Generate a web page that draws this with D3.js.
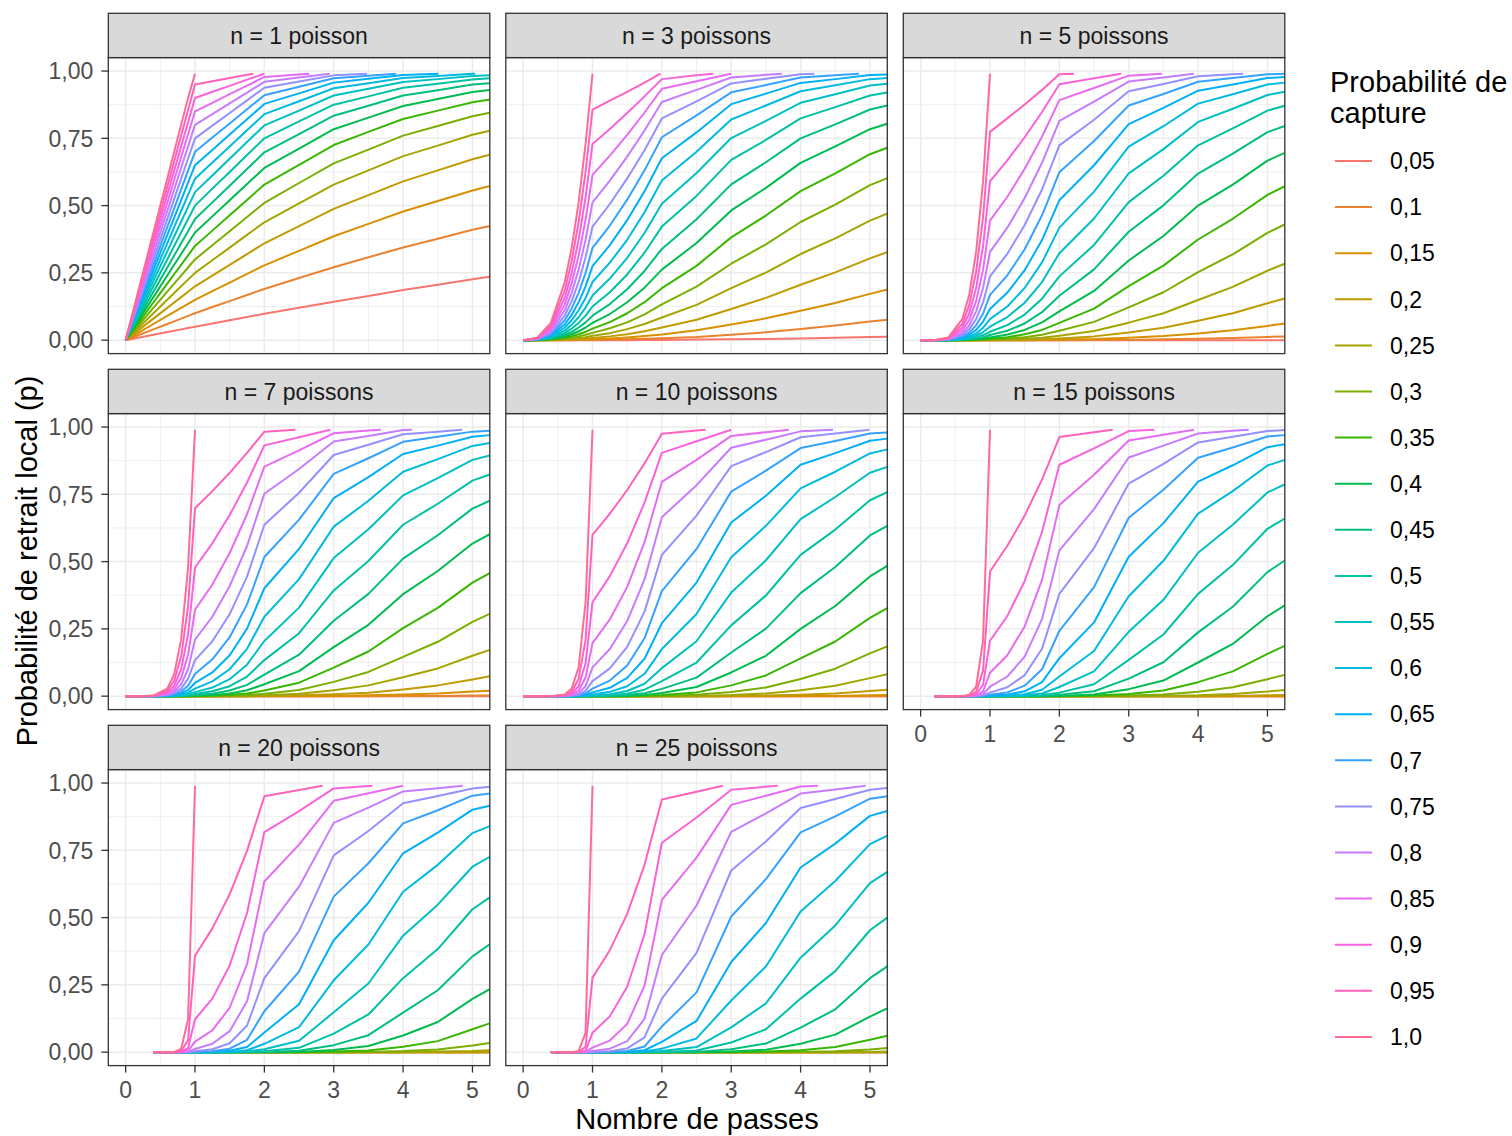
<!DOCTYPE html>
<html>
<head>
<meta charset="utf-8">
<script src="https://cdn.jsdelivr.net/npm/d3@7"></script>
<style>
  body { margin: 0; background: #fff; }
  svg { display: block; font-family: "Liberation Sans", Arial, sans-serif; }
</style>
</head>
<body>
<div id="chart"></div>
<script>
// Valeurs
var passes = [0, 0.2, 0.4, 0.6, 0.7, 0.8, 0.9, 1, 1.25, 1.5, 1.75, 2, 2.5, 3, 3.5, 4, 4.5, 5, 5.25];
var captures = ["0,05", "0,1", "0,15", "0,2", "0,25", "0,3", "0,35", "0,4", "0,45", "0,5",
                "0,55", "0,6", "0,65", "0,7", "0,75", "0,8", "0,85", "0,9", "0,95", "1,0"];
var poissons = [1, 3, 5, 7, 10, 15, 20, 25];
var xTicks = [0, 1, 2, 3, 4, 5];
var yTicks = [0, 0.25, 0.5, 0.75, 1];
var yLabels = ["0,00", "0,25", "0,50", "0,75", "1,00"];
var plafond = 0.99; // les courbes s'arretent vers 0,99

var n1 = [
  [0,.01,.02,.03,.035,.04,.045,.05,.062,.074,.086,.098,.12,.143,.164,.186,.206,.226,.236],
  [0,.02,.04,.06,.07,.08,.09,.1,.123,.145,.168,.19,.231,.271,.308,.344,.377,.41,.424],
  [0,.03,.06,.09,.105,.12,.135,.15,.182,.214,.246,.278,.332,.386,.432,.478,.517,.556,.573],
  [0,.04,.08,.12,.14,.16,.18,.2,.24,.28,.32,.36,.424,.488,.539,.59,.631,.672,.689],
  [0,.05,.1,.15,.175,.2,.225,.25,.297,.344,.391,.438,.508,.578,.631,.684,.723,.763,.778],
  [0,.06,.12,.18,.21,.24,.27,.3,.353,.405,.458,.51,.584,.657,.708,.76,.796,.832,.845],
  [0,.07,.14,.21,.245,.28,.315,.35,.407,.464,.521,.578,.651,.725,.774,.822,.853,.884,.894],
  [0,.08,.16,.24,.28,.32,.36,.4,.46,.52,.58,.64,.712,.784,.827,.87,.896,.922,.93],
  [0,.09,.18,.27,.315,.36,.405,.45,.512,.574,.636,.698,.766,.834,.871,.909,.929,.95,.955],
  [0,.1,.2,.3,.35,.4,.45,.5,.563,.625,.688,.75,.813,.875,.906,.938,.953,.969,.973],
  [0,.11,.22,.33,.385,.44,.495,.55,.612,.674,.736,.798,.853,.909,.934,.959,.97,.982,.984],
  [0,.12,.24,.36,.42,.48,.54,.6,.66,.72,.78,.84,.888,.936,.955,.974,.982,.99],
  [0,.13,.26,.39,.455,.52,.585,.65,.707,.764,.821,.878,.917,.957,.971,.985],
  [0,.14,.28,.42,.49,.56,.63,.7,.753,.805,.858,.91,.942,.973,.983],
  [0,.15,.3,.45,.525,.6,.675,.75,.797,.844,.891,.938,.961,.984],
  [0,.16,.32,.48,.56,.64,.72,.8,.84,.88,.92,.96,.976],
  [0,.17,.34,.51,.595,.68,.765,.85,.882,.914,.946,.978,.987],
  [0,.18,.36,.54,.63,.72,.81,.9,.923,.945,.968],
  [0,.19,.38,.57,.665,.76,.855,.95,.962,.974,.986],
  [0,.2,.4,.6,.7,.8,.9]
];
var n3 = [
  [0,0,0,0,0,0,0,0,0,0,.001,.001,.002,.003,.004,.006,.009,.012,.013],
  [0,0,0,0,0,.001,.001,.001,.002,.003,.005,.007,.012,.02,.029,.041,.054,.069,.076],
  [0,0,0,.001,.001,.002,.002,.003,.006,.01,.015,.021,.037,.058,.081,.109,.138,.172,.188],
  [0,0,.001,.002,.003,.004,.006,.008,.014,.022,.033,.047,.076,.116,.157,.206,.252,.304,.327],
  [0,0,.001,.003,.005,.008,.011,.016,.026,.041,.06,.084,.131,.193,.251,.32,.378,.444,.47],
  [0,0,.002,.006,.009,.014,.02,.027,.044,.066,.096,.133,.199,.284,.356,.439,.504,.576,.602],
  [0,0,.003,.009,.015,.022,.031,.043,.067,.1,.141,.193,.276,.382,.463,.554,.62,.691,.715],
  [0,.001,.004,.014,.022,.033,.047,.064,.097,.141,.195,.262,.361,.482,.566,.659,.72,.784,.804],
  [0,.001,.006,.02,.031,.047,.066,.091,.134,.189,.257,.339,.449,.579,.661,.75,.802,.857,.872],
  [0,.001,.008,.027,.043,.064,.091,.125,.178,.244,.325,.422,.536,.67,.744,.824,.866,.909,.92],
  [0,.001,.011,.036,.057,.085,.121,.166,.229,.306,.398,.507,.621,.751,.815,.882,.914,.946,.953],
  [0,.002,.014,.047,.074,.111,.157,.216,.288,.373,.475,.593,.7,.82,.872,.925,.947,.97,.974],
  [0,.002,.018,.059,.094,.141,.2,.275,.353,.446,.553,.676,.772,.877,.916,.956,.97,.985,.987],
  [0,.003,.022,.074,.118,.176,.25,.343,.426,.522,.631,.754,.835,.921,.948,.976,.984],
  [0,.003,.027,.091,.145,.216,.308,.422,.506,.601,.706,.824,.887,.954,.971,.988],
  [0,.004,.033,.111,.176,.262,.373,.512,.593,.682,.779,.885,.93,.976,.986],
  [0,.005,.039,.133,.211,.314,.448,.614,.686,.763,.846,.934,.962],
  [0,.006,.047,.157,.25,.373,.531,.729,.785,.844,.906,.97,.984],
  [0,.007,.055,.185,.294,.439,.625,.857,.89,.923,.957],
  [0,.008,.064,.216,.343,.512,.729]
];
var n5 = [
  [0,0,0,0,0,0,0,0,0,0,0,0,0,0,0,0,0,0,0],
  [0,0,0,0,0,0,0,0,0,0,0,0,.001,.001,.003,.005,.008,.012,.014],
  [0,0,0,0,0,0,0,0,0,0,.001,.002,.004,.009,.015,.025,.037,.053,.062],
  [0,0,0,0,0,0,0,0,.001,.002,.003,.006,.014,.028,.046,.072,.1,.137,.155],
  [0,0,0,0,0,0,.001,.001,.002,.005,.009,.016,.034,.065,.1,.149,.198,.258,.284],
  [0,0,0,0,0,.001,.001,.002,.006,.011,.02,.035,.068,.122,.178,.253,.319,.399,.43],
  [0,0,0,0,.001,.002,.003,.005,.011,.022,.038,.064,.117,.201,.277,.374,.451,.54,.572],
  [0,0,0,.001,.002,.003,.006,.01,.021,.038,.066,.107,.183,.296,.387,.5,.578,.667,.696],
  [0,0,0,.001,.003,.006,.011,.019,.035,.062,.104,.165,.263,.403,.501,.619,.693,.773,.796],
  [0,0,0,.002,.005,.01,.019,.031,.056,.095,.154,.237,.354,.513,.611,.724,.787,.853,.871],
  [0,0,.001,.004,.008,.017,.03,.05,.086,.139,.216,.323,.452,.62,.71,.811,.86,.911,.923],
  [0,0,.001,.006,.013,.025,.046,.078,.125,.194,.289,.418,.552,.719,.795,.879,.914,.95,.957],
  [0,0,.001,.009,.02,.038,.069,.116,.177,.26,.372,.52,.65,.803,.863,.927,.95,.974,.978],
  [0,0,.002,.013,.028,.055,.099,.168,.241,.338,.464,.624,.74,.872,.915,.96,.974,.988,.99],
  [0,0,.002,.019,.04,.078,.14,.237,.321,.428,.56,.724,.819,.925,.952,.981,.988],
  [0,0,.003,.025,.055,.107,.194,.328,.418,.528,.659,.815,.886,.961,.976],
  [0,0,.005,.035,.075,.145,.262,.444,.533,.637,.756,.892,.937,.983],
  [0,0,.006,.046,.099,.194,.349,.59,.668,.754,.848,.951,.973],
  [0,0,.008,.06,.13,.254,.457,.774,.824,.876,.93,.988],
  [0,0,.01,.078,.168,.328,.59]
];
var n7 = [
  [0,0,0,0,0,0,0,0,0,0,0,0,0,0,0,0,0,0,0],
  [0,0,0,0,0,0,0,0,0,0,0,0,0,0,0,.001,.001,.002,.002],
  [0,0,0,0,0,0,0,0,0,0,0,0,0,.001,.003,.006,.01,.017,.02],
  [0,0,0,0,0,0,0,0,0,0,0,.001,.003,.007,.013,.025,.04,.062,.074],
  [0,0,0,0,0,0,0,0,0,0,.001,.003,.009,.022,.04,.07,.103,.15,.172],
  [0,0,0,0,0,0,0,0,0,.002,.004,.009,.023,.053,.09,.146,.202,.276,.306],
  [0,0,0,0,0,0,0,.001,.002,.005,.01,.021,.05,.106,.166,.253,.328,.422,.457],
  [0,0,0,0,0,0,.001,.002,.004,.01,.022,.044,.093,.182,.265,.379,.465,.567,.602],
  [0,0,0,0,0,.001,.002,.004,.009,.021,.042,.08,.154,.28,.38,.511,.598,.697,.726],
  [0,0,0,0,.001,.002,.004,.008,.018,.037,.073,.134,.234,.393,.502,.637,.715,.801,.824],
  [0,0,0,0,.001,.003,.007,.015,.032,.063,.117,.205,.329,.513,.62,.746,.81,.878,.894],
  [0,0,0,.001,.002,.006,.013,.028,.055,.1,.176,.295,.435,.63,.726,.834,.881,.93,.941],
  [0,0,0,.001,.004,.01,.023,.049,.088,.152,.251,.401,.547,.736,.814,.9,.931,.964,.97],
  [0,0,0,.002,.007,.017,.039,.082,.137,.219,.341,.517,.656,.826,.884,.945,.964,.983,.986],
  [0,0,0,.004,.011,.028,.064,.134,.204,.305,.444,.637,.756,.896,.934,.973,.983],
  [0,0,0,.006,.017,.044,.1,.21,.295,.409,.558,.752,.844,.946,.967,.989],
  [0,0,.001,.009,.026,.067,.153,.321,.415,.532,.676,.853,.913,.977,.987],
  [0,0,.001,.013,.039,.1,.229,.478,.568,.673,.794,.932,.962],
  [0,0,.001,.02,.058,.147,.334,.698,.762,.83,.904,.983],
  [0,0,.002,.028,.082,.21,.478]
];
var n10 = [
  [0,0,0,0,0,0,0,0,0,0,0,0,0,0,0,0,0,0,0],
  [0,0,0,0,0,0,0,0,0,0,0,0,0,0,0,0,0,0,0],
  [0,0,0,0,0,0,0,0,0,0,0,0,0,0,0,.001,.001,.003,.004],
  [0,0,0,0,0,0,0,0,0,0,0,0,0,.001,.002,.005,.01,.019,.024],
  [0,0,0,0,0,0,0,0,0,0,0,0,.001,.004,.01,.022,.039,.067,.081],
  [0,0,0,0,0,0,0,0,0,0,0,.001,.005,.015,.032,.064,.102,.159,.185],
  [0,0,0,0,0,0,0,0,0,0,.002,.004,.014,.04,.077,.14,.203,.291,.327],
  [0,0,0,0,0,0,0,0,0,.001,.004,.012,.034,.088,.15,.25,.335,.445,.484],
  [0,0,0,0,0,0,0,0,.001,.004,.011,.027,.069,.162,.251,.383,.48,.597,.633],
  [0,0,0,0,0,0,0,.001,.003,.009,.024,.056,.125,.263,.374,.525,.619,.728,.758],
  [0,0,0,0,0,0,.001,.003,.007,.019,.046,.104,.204,.385,.505,.658,.74,.83,.852],
  [0,0,0,0,0,.001,.002,.006,.016,.037,.083,.175,.305,.516,.633,.772,.834,.902,.917],
  [0,0,0,0,0,.001,.005,.014,.031,.068,.139,.271,.422,.645,.745,.86,.903,.949,.957],
  [0,0,0,0,.001,.003,.01,.028,.058,.114,.215,.39,.547,.76,.838,.922,.948,.976,.98],
  [0,0,0,0,.002,.006,.02,.056,.103,.183,.314,.525,.671,.855,.907,.962,.976],
  [0,0,0,.001,.003,.012,.037,.107,.175,.279,.434,.665,.784,.923,.953,.984],
  [0,0,0,.001,.006,.021,.069,.197,.285,.406,.572,.796,.878,.967,.981],
  [0,0,0,.002,.01,.037,.122,.349,.446,.568,.719,.904,.947],
  [0,0,0,.004,.017,.064,.209,.599,.678,.766,.865,.975,.987],
  [0,0,0,.006,.028,.107,.349]
];
var n15 = [
  [null,0,0,0,0,0,0,0,0,0,0,0,0,0,0,0,0,0,0],
  [null,0,0,0,0,0,0,0,0,0,0,0,0,0,0,0,0,0,0],
  [null,0,0,0,0,0,0,0,0,0,0,0,0,0,0,0,0,0,0],
  [null,0,0,0,0,0,0,0,0,0,0,0,0,0,0,0,.001,.003,.004],
  [null,0,0,0,0,0,0,0,0,0,0,0,0,0,.001,.003,.008,.017,.023],
  [null,0,0,0,0,0,0,0,0,0,0,0,0,.002,.006,.016,.033,.063,.079],
  [null,0,0,0,0,0,0,0,0,0,0,0,.002,.008,.021,.052,.092,.157,.187],
  [null,0,0,0,0,0,0,0,0,0,0,.001,.006,.026,.058,.125,.194,.297,.337],
  [null,0,0,0,0,0,0,0,0,0,.001,.005,.018,.065,.126,.237,.332,.461,.504],
  [null,0,0,0,0,0,0,0,0,.001,.004,.013,.044,.135,.229,.38,.487,.622,.66],
  [null,0,0,0,0,0,0,0,.001,.003,.01,.034,.092,.239,.358,.533,.637,.757,.787],
  [null,0,0,0,0,0,0,.001,.002,.007,.024,.073,.168,.371,.503,.678,.762,.857,.878],
  [null,0,0,0,0,0,0,.002,.006,.018,.052,.141,.274,.518,.643,.797,.858,.925,.936],
  [null,0,0,0,0,0,.001,.005,.014,.039,.1,.243,.405,.663,.767,.886,.924,.965,.97],
  [null,0,0,0,0,.001,.003,.013,.033,.078,.176,.38,.55,.79,.863,.943,.964,.985,.989],
  [null,0,0,0,0,.001,.007,.035,.073,.147,.286,.542,.695,.887,.931,.976,.986],
  [null,0,0,0,0,.003,.018,.087,.152,.259,.432,.71,.823,.95,.971],
  [null,0,0,0,.001,.007,.042,.206,.298,.428,.61,.86,.921,.985],
  [null,0,0,0,.002,.016,.095,.463,.559,.671,.805,.963,.981],
  [null,0,0,0,.005,.035,.206]
];
var n20 = [
  [null,null,0,0,0,0,0,0,0,0,0,0,0,0,0,0,0,0,0],
  [null,null,0,0,0,0,0,0,0,0,0,0,0,0,0,0,0,0,0],
  [null,null,0,0,0,0,0,0,0,0,0,0,0,0,0,0,0,0,0],
  [null,null,0,0,0,0,0,0,0,0,0,0,0,0,0,0,0,0,0],
  [null,null,0,0,0,0,0,0,0,0,0,0,0,0,0,0,.002,.004,.007],
  [null,null,0,0,0,0,0,0,0,0,0,0,0,0,.001,.004,.01,.025,.034],
  [null,null,0,0,0,0,0,0,0,0,0,0,0,.002,.006,.02,.041,.085,.107],
  [null,null,0,0,0,0,0,0,0,0,0,0,.001,.008,.023,.062,.112,.198,.234],
  [null,null,0,0,0,0,0,0,0,0,0,.001,.005,.026,.063,.147,.23,.356,.401],
  [null,null,0,0,0,0,0,0,0,0,.001,.003,.016,.069,.14,.275,.383,.531,.575],
  [null,null,0,0,0,0,0,0,0,0,.002,.011,.042,.148,.255,.433,.548,.689,.726],
  [null,null,0,0,0,0,0,0,0,.001,.007,.031,.093,.267,.4,.596,.696,.814,.84],
  [null,null,0,0,0,0,0,0,.001,.005,.019,.073,.178,.416,.555,.739,.816,.901,.916],
  [null,null,0,0,0,0,0,.001,.003,.013,.046,.152,.299,.578,.702,.85,.899,.953,.961],
  [null,null,0,0,0,0,0,.003,.011,.033,.099,.275,.45,.731,.822,.925,.952,.98,.986],
  [null,null,0,0,0,0,.001,.012,.031,.078,.189,.442,.615,.852,.909,.969,.981],
  [null,null,0,0,0,0,.005,.039,.081,.165,.327,.634,.771,.934,.962],
  [null,null,0,0,0,.001,.015,.122,.199,.322,.517,.818,.896,.98],
  [null,null,0,0,0,.004,.044,.358,.46,.587,.748,.951,.974],
  [null,null,0,0,.001,.012,.122]
];
var n25 = [
  [null,null,0,0,0,0,0,0,0,0,0,0,0,0,0,0,0,0,0],
  [null,null,0,0,0,0,0,0,0,0,0,0,0,0,0,0,0,0,0],
  [null,null,0,0,0,0,0,0,0,0,0,0,0,0,0,0,0,0,0],
  [null,null,0,0,0,0,0,0,0,0,0,0,0,0,0,0,0,0,0],
  [null,null,0,0,0,0,0,0,0,0,0,0,0,0,0,0,0,.001,.002],
  [null,null,0,0,0,0,0,0,0,0,0,0,0,0,0,.001,.003,.01,.015],
  [null,null,0,0,0,0,0,0,0,0,0,0,0,0,.002,.007,.019,.046,.061],
  [null,null,0,0,0,0,0,0,0,0,0,0,0,.002,.009,.031,.065,.132,.163],
  [null,null,0,0,0,0,0,0,0,0,0,0,.001,.011,.032,.091,.159,.275,.319],
  [null,null,0,0,0,0,0,0,0,0,0,.001,.006,.036,.085,.199,.301,.453,.5],
  [null,null,0,0,0,0,0,0,0,0,.001,.004,.019,.092,.181,.351,.471,.628,.67],
  [null,null,0,0,0,0,0,0,0,0,.002,.013,.051,.192,.318,.523,.636,.773,.805],
  [null,null,0,0,0,0,0,0,0,.001,.007,.038,.116,.335,.48,.686,.775,.878,.896],
  [null,null,0,0,0,0,0,0,.001,.004,.021,.095,.222,.504,.643,.817,.876,.942,.951],
  [null,null,0,0,0,0,0,.001,.003,.014,.055,.199,.369,.675,.783,.907,.941,.975,.982],
  [null,null,0,0,0,0,0,.004,.013,.041,.124,.361,.545,.819,.887,.961,.976],
  [null,null,0,0,0,0,.001,.017,.043,.105,.247,.566,.723,.919,.953,.987],
  [null,null,0,0,0,0,.005,.072,.133,.243,.438,.778,.872,.975],
  [null,null,0,0,0,.001,.02,.277,.379,.514,.696,.939,.968],
  [null,null,0,0,0,.004,.072]
];

// Nombre de passes ou chaque courbe atteint le plafond (null = va jusqu'au bord)
var fins = [
  [null,null,null,null,null,null,null,null,null,null,null,5.04,4.51,3.9,3.48,2.94,2.65,2.0,1.84,1],
  [null,null,null,null,null,null,null,null,null,null,null,null,null,4.84,4.2,3.73,3.0,2.74,1.98,1],
  [null,null,null,null,null,null,null,null,null,null,null,null,null,null,4.65,3.94,3.48,2.89,2.21,1],
  [null,null,null,null,null,null,null,null,null,null,null,null,null,null,4.85,4.13,3.68,2.95,2.45,1],
  [null,null,null,null,null,null,null,null,null,null,null,null,null,null,4.99,4.47,3.83,3.0,2.63,1],
  [null,null,null,null,null,null,null,null,null,null,null,null,null,null,null,4.73,3.94,3.37,2.77,1],
  [null,null,null,null,null,null,null,null,null,null,null,null,null,null,null,4.86,4.0,3.56,2.84,1],
  [null,null,null,null,null,null,null,null,null,null,null,null,null,null,null,4.94,4.25,3.67,2.88,1]
];

var colours = ["#F8766D","#EA8331","#D89000","#C09B00","#A3A500","#7CAE00","#39B600","#00BB4E",
               "#00BF7D","#00C1A3","#00BFC4","#00BAE0","#00B0F6","#35A2FF","#9590FF","#C77CFF",
               "#E76BF3","#FA62DB","#FF62BC","#FF6C91"];

var series = [n1, n3, n5, n7, n10, n15, n20, n25];

// Mise en page
var W = 1512, H = 1136;
var panelLeft = 108.3, panelW = 381.5, colStep = 397.5;
var stripTop = 13.3, stripH = 44.3, panelH = 296, rowStep = 356;
var small = 23, big = 29;

var svg = d3.select("#chart").append("svg")
    .attr("width", W)
    .attr("height", H);

var x = d3.scaleLinear().domain([-0.25, 5.25]).range([0, panelW]);
var y = d3.scaleLinear().domain([-0.05, 1.05]).range([panelH, 0]);

var line = d3.line()
    .x(function(d) { return x(d[0]); })
    .y(function(d) { return y(d[1]); });

var minorX = [0.5, 1.5, 2.5, 3.5, 4.5];
var minorY = [0.125, 0.375, 0.625, 0.875];

svg.append("defs").append("clipPath").attr("id", "clip")
  .append("rect").attr("width", panelW).attr("height", panelH);

poissons.forEach(function(n, pi) {
  var col = pi % 3, row = Math.floor(pi / 3);
  var gx = panelLeft + col * colStep;
  var gy = stripTop + row * rowStep + stripH;
  var g = svg.append("g").attr("transform", "translate(" + gx + "," + gy + ")");

  // Bandeau
  svg.append("rect")
      .attr("x", gx).attr("y", gy - stripH)
      .attr("width", panelW).attr("height", stripH)
      .attr("fill", "#D9D9D9").attr("stroke", "#333333").attr("stroke-width", 1.3);
  svg.append("text")
      .attr("x", gx + panelW / 2).attr("y", gy - stripH / 2)
      .attr("dy", "0.36em").attr("text-anchor", "middle")
      .attr("font-size", small).attr("fill", "#1A1A1A")
      .text("n = " + n + (n === 1 ? " poisson" : " poissons"));

  // Grille
  g.selectAll(".minx").data(minorX).enter().append("line")
      .attr("x1", x).attr("x2", x).attr("y1", 0).attr("y2", panelH)
      .attr("stroke", "#EBEBEB").attr("stroke-width", 0.8);
  g.selectAll(".miny").data(minorY).enter().append("line")
      .attr("y1", y).attr("y2", y).attr("x1", 0).attr("x2", panelW)
      .attr("stroke", "#EBEBEB").attr("stroke-width", 0.8);
  g.selectAll(".majx").data(xTicks).enter().append("line")
      .attr("x1", x).attr("x2", x).attr("y1", 0).attr("y2", panelH)
      .attr("stroke", "#EBEBEB").attr("stroke-width", 1.5);
  g.selectAll(".majy").data(yTicks).enter().append("line")
      .attr("y1", y).attr("y2", y).attr("x1", 0).attr("x2", panelW)
      .attr("stroke", "#EBEBEB").attr("stroke-width", 1.5);

  // Courbes
  var lines = g.append("g").attr("clip-path", "url(#clip)");
  series[pi].forEach(function(ys, si) {
    var fin = fins[pi][si];
    var pts = [];
    ys.forEach(function(v, i) {
      if (v != null && (fin == null || passes[i] < fin)) pts.push([passes[i], v]);
    });
    if (fin != null) pts.push([fin, plafond]);
    lines.append("path")
        .attr("d", line(pts))
        .attr("fill", "none")
        .attr("stroke", colours[si])
        .attr("stroke-width", 2)
        .attr("stroke-linejoin", "round");
  });

  // Cadre
  g.append("rect").attr("width", panelW).attr("height", panelH)
      .attr("fill", "none").attr("stroke", "#333333").attr("stroke-width", 1.3);

  // Axe y sur la premiere colonne
  if (col === 0) {
    yTicks.forEach(function(t, i) {
      g.append("line").attr("x1", -7).attr("x2", 0).attr("y1", y(t)).attr("y2", y(t))
          .attr("stroke", "#333333").attr("stroke-width", 1.3);
      g.append("text").attr("x", -15).attr("y", y(t)).attr("dy", "0.36em")
          .attr("text-anchor", "end").attr("font-size", small).attr("fill", "#4D4D4D")
          .text(yLabels[i]);
    });
  }
  // Axe x sous la derniere case de chaque colonne
  if (row === 2 || (row === 1 && col === 2)) {
    xTicks.forEach(function(t) {
      g.append("line").attr("x1", x(t)).attr("x2", x(t)).attr("y1", panelH).attr("y2", panelH + 7)
          .attr("stroke", "#333333").attr("stroke-width", 1.3);
      g.append("text").attr("x", x(t)).attr("y", panelH + 32)
          .attr("text-anchor", "middle").attr("font-size", small).attr("fill", "#4D4D4D")
          .text(t);
    });
  }
});

// Titres des axes
svg.append("text")
    .attr("transform", "translate(37,561) rotate(-90)")
    .attr("text-anchor", "middle").attr("font-size", big).attr("fill", "#000")
    .text("Probabilité de retrait local (p)");
svg.append("text")
    .attr("x", 697).attr("y", 1129)
    .attr("text-anchor", "middle").attr("font-size", big).attr("fill", "#000")
    .text("Nombre de passes");

// Legende
var legend = svg.append("g");
legend.append("text").attr("x", 1330).attr("y", 92)
    .attr("font-size", big).attr("fill", "#000").text("Probabilité de");
legend.append("text").attr("x", 1330).attr("y", 123)
    .attr("font-size", big).attr("fill", "#000").text("capture");
captures.forEach(function(c, i) {
  var ly = 161 + i * 46.1;
  legend.append("line").attr("x1", 1335).attr("x2", 1372).attr("y1", ly).attr("y2", ly)
      .attr("stroke", colours[i]).attr("stroke-width", 2);
  legend.append("text").attr("x", 1390).attr("y", ly).attr("dy", "0.36em")
      .attr("font-size", small).attr("fill", "#000").text(c);
});
</script>
</body>
</html>
